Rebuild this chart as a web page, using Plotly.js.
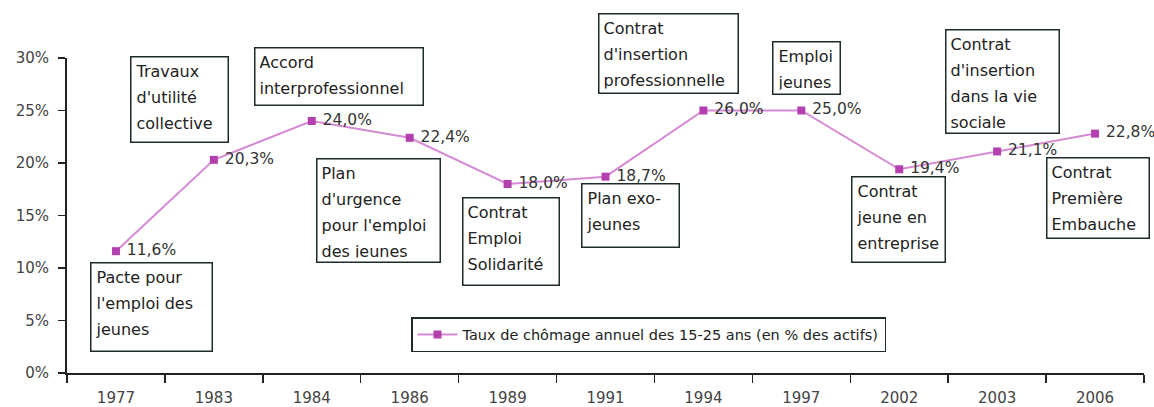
<!DOCTYPE html>
<html>
<head>
<meta charset="utf-8">
<script src="https://cdn.plot.ly/plotly-3.0.1.min.js"></script>
<style>
  html, body { margin: 0; padding: 0; background: #fff; }
  #chart { width: 1154px; height: 407px; }
</style>
</head>
<body>
<div id="chart"></div>
<script>
/* Taux de chômage des 15-25 ans et dispositifs pour l'emploi des jeunes. */
(function () {
  "use strict";

  var YEARS = ["1977", "1983", "1984", "1986", "1989", "1991", "1994", "1997", "2002", "2003", "2006"];
  var RATES = [11.6, 20.3, 24.0, 22.4, 18.0, 18.7, 25.0, 25.0, 19.4, 21.1, 22.8];
  var RATE_LABELS = ["11,6%", "20,3%", "24,0%", "22,4%", "18,0%", "18,7%", "26,0%", "25,0%", "19,4%", "21,1%", "22,8%"];
  var SERIES_NAME = "Taux de chômage annuel des 15-25 ans (en % des actifs)";

  var NOTES = [
    ["Pacte pour", "l'emploi des", "jeunes"],
    ["Travaux", "d'utilité", "collective"],
    ["Accord", "interprofessionnel"],
    ["Plan", "d'urgence", "pour l'emploi", "des jeunes"],
    ["Contrat", "Emploi", "Solidarité"],
    ["Plan exo-", "jeunes"],
    ["Contrat", "d'insertion", "professionnelle"],
    ["Emploi", "jeunes"],
    ["Contrat", "jeune en", "entreprise"],
    ["Contrat", "d'insertion", "dans la vie", "sociale"],
    ["Contrat", "Première", "Embauche"]
  ];

  // box outlines in page pixels: left, top, right, bottom
  var NOTE_BOXES = [
    [90, 262, 213, 352],
    [130, 56, 229, 143],
    [254, 47, 424, 106],
    [316, 158, 441, 263],
    [462, 197, 560, 286],
    [581, 183, 680, 248],
    [598, 13, 739, 94],
    [772, 41, 841, 95],
    [851, 176, 946, 263],
    [945, 29, 1060, 134],
    [1046, 157, 1150, 239]
  ];

  var FONT = "DejaVu Sans, Verdana, sans-serif";
  var M = { l: 67, r: 10, t: 58, b: 34 };
  var W = 1154, H = 407;
  var PW = W - M.l - M.r, PH = H - M.t - M.b;
  var BW = 1.5, PAD = 4;

  // one bordered note; 20px base font gives the wide line spacing, text itself is 16px
  function noteAnnotation(lines, box) {
    var text = lines.map(function (s) {
      return "<span style='font-size:16px'>" + s + "</span>";
    }).join("<br>");
    return {
      xref: "paper", yref: "paper",
      x: (box[0] - M.l) / PW, y: (H - M.b - box[1]) / PH,
      xanchor: "left", yanchor: "top",
      width: box[2] - box[0] - 2 * (BW + PAD),
      height: box[3] - box[1] - 2 * (BW + PAD),
      align: "left", valign: "top",
      text: text, showarrow: false,
      font: { family: FONT, size: 20, color: "#222" },
      bordercolor: "#1d2b2b", borderwidth: BW, borderpad: PAD,
      bgcolor: "rgba(255,255,255,0)"
    };
  }

  var trace = {
    type: "scatter", mode: "lines+markers+text",
    name: SERIES_NAME,
    x: YEARS, y: RATES,
    text: RATE_LABELS.map(function (s) { return "\u00a0" + s; }),
    textposition: "middle right",
    textfont: { family: FONT, size: 15.5, color: "#333" },
    line: { color: "#d68ad6", width: 2 },
    marker: { symbol: "square", size: 8, color: "#b43fae" },
    cliponaxis: false
  };

  var layout = {
    width: W, height: H,
    margin: M,
    paper_bgcolor: "#fff", plot_bgcolor: "#fff",
    font: { family: FONT, size: 15, color: "#444" },
    showlegend: true,
    legend: {
      x: (411 - M.l) / PW, y: (H - M.b - 317) / PH,
      xanchor: "left", yanchor: "top",
      itemwidth: 40,
      bordercolor: "#1d2b2b", borderwidth: BW, bgcolor: "#fff",
      font: { family: FONT, size: 14.5, color: "#222" }
    },
    xaxis: {
      type: "category",
      range: [-0.5, YEARS.length - 0.5],
      tickson: "boundaries",
      ticks: "outside", ticklen: 8, tickwidth: 1.5, tickcolor: "#222",
      showline: true, linecolor: "#222", linewidth: 2,
      showgrid: false, zeroline: false,
      ticklabelstandoff: 10,
      tickfont: { family: FONT, size: 15, color: "#444" }
    },
    yaxis: {
      range: [0, 30], dtick: 5, tick0: 0, ticksuffix: "%",
      ticks: "outside", ticklen: 7, tickwidth: 1.5, tickcolor: "#222",
      showline: true, linecolor: "#222", linewidth: 2,
      showgrid: false, zeroline: false,
      ticklabelstandoff: 6,
      tickfont: { family: FONT, size: 15, color: "#444" }
    },
    annotations: NOTES.map(function (lines, i) { return noteAnnotation(lines, NOTE_BOXES[i]); })
  };

  Plotly.newPlot("chart", [trace], layout, { displayModeBar: false, staticPlot: true });
})();
</script>
</body>
</html>
